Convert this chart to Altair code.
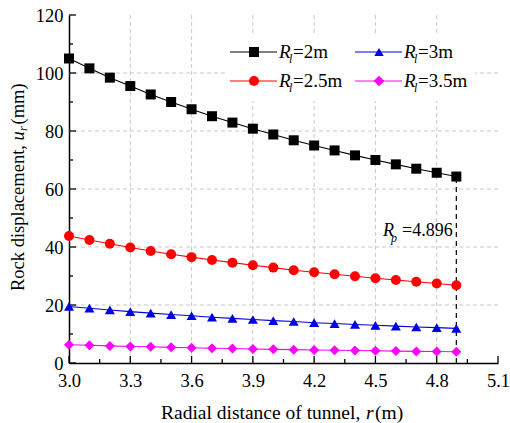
import altair as alt
import pandas as pd

# ---------------- data ----------------
r_vals = [3.0, 3.1, 3.2, 3.3, 3.4, 3.5, 3.6, 3.7, 3.8, 3.9,
          4.0, 4.1, 4.2, 4.3, 4.4, 4.5, 4.6, 4.7, 4.8, 4.896]
u_R2 = [105.0, 101.6, 98.4, 95.5, 92.6, 90.0, 87.5, 85.1, 82.9, 80.8,
        78.8, 76.8, 75.0, 73.3, 71.6, 70.0, 68.5, 67.0, 65.6, 64.3]
u_R25 = [43.8, 42.4, 41.1, 39.8, 38.6, 37.5, 36.5, 35.5, 34.6, 33.7,
         32.9, 32.0, 31.3, 30.6, 29.9, 29.2, 28.6, 28.0, 27.4, 26.8]
u_R3 = [19.5, 18.9, 18.3, 17.7, 17.2, 16.7, 16.3, 15.8, 15.4, 15.0,
        14.6, 14.3, 13.9, 13.6, 13.3, 13.0, 12.7, 12.4, 12.2, 11.95]
u_R35 = [6.3, 6.1, 5.9, 5.7, 5.6, 5.4, 5.25, 5.1, 5.0, 4.85,
         4.7, 4.6, 4.5, 4.4, 4.3, 4.2, 4.1, 4.0, 3.95, 3.9]
series_names = ["R2", "R25", "R3", "R35"]
series_colors = ["#000000", "#FF0000", "#0000E0", "#FF00FF"]
series_shapes = ["square", "circle", "triangle-up", "diamond"]
series_sizes = [100, 100, 90, 115]
legend_labels = ["=2m", "=2.5m", "=3m", "=3.5m"]

Rp = 4.896
Rp_top = 64.3

x_ticks = [3.0, 3.3, 3.6, 3.9, 4.2, 4.5, 4.8, 5.1]
x_minor = [3.15, 3.45, 3.75, 4.05, 4.35, 4.65, 4.95]
y_ticks = [0, 20, 40, 60, 80, 100, 120]
y_minor = [10, 30, 50, 70, 90, 110]
x_grid = [3.3, 3.6, 3.9, 4.2, 4.5, 4.8]
y_grid = [20, 40, 60, 80, 100]

FONT = "Liberation Serif, Times New Roman, DejaVu Serif, serif"
NB = "\u00a0"
W, H = 429, 348

rows = []
for name, vals in zip(series_names, [u_R2, u_R25, u_R3, u_R35]):
    for r, u in zip(r_vals, vals):
        rows.append({"r": r, "u": u, "s": name})
df = pd.DataFrame(rows)

xscale = alt.Scale(domain=[3.0, 5.1], nice=False, zero=False)
yscale = alt.Scale(domain=[0, 120], nice=False, zero=False)
xaxis = alt.Axis(values=x_ticks, format=".1f", title=None, grid=False, ticks=False,
                 tickSize=0, labelPadding=8, labelFlush=False, labelOverlap=False,
                 labelFont=FONT, labelFontSize=18.5, labelColor="black",
                 domainColor="black", domainWidth=1.5)
yaxis = alt.Axis(values=y_ticks, title=None, grid=False, ticks=False,
                 tickSize=0, labelPadding=6, labelFlush=False, labelOverlap=False,
                 labelFont=FONT, labelFontSize=18.5, labelColor="black",
                 domainColor="black", domainWidth=1.5)
X = lambda: alt.X("r:Q", scale=xscale, axis=xaxis)
Y = lambda: alt.Y("u:Q", scale=yscale, axis=yaxis)
cscale = alt.Scale(domain=series_names, range=series_colors)
sscale = alt.Scale(domain=series_names, range=series_shapes)
zscale = alt.Scale(domain=series_names, range=series_sizes)

one = alt.Data(values=[{}])


def txt(t, x, y, size=18, italic=False, angle=0, align="left", baseline="alphabetic"):
    kw = dict(font=FONT, fontSize=size, color="black", align=align, baseline=baseline)
    if italic:
        kw["fontStyle"] = "italic"
    if angle:
        kw["angle"] = angle
    return alt.Chart(one).mark_text(**kw).encode(
        x=alt.value(x), y=alt.value(y), text=alt.value(t))


layers = []

# grid
layers.append(alt.Chart(pd.DataFrame({"r": x_grid})).mark_rule(
    color="#C8C8C8", strokeWidth=1, strokeDash=[4, 3]).encode(x=X()))
layers.append(alt.Chart(pd.DataFrame({"u": y_grid})).mark_rule(
    color="#C8C8C8", strokeWidth=1, strokeDash=[4, 3]).encode(y=Y()))

# inward ticks
layers.append(alt.Chart(pd.DataFrame({"r": x_ticks})).mark_rule(color="black", strokeWidth=1.3).encode(
    x=X(), y=alt.value(H), y2=alt.value(H - 7)))
layers.append(alt.Chart(pd.DataFrame({"r": x_minor})).mark_rule(color="black", strokeWidth=1.3).encode(
    x=X(), y=alt.value(H), y2=alt.value(H - 4)))
layers.append(alt.Chart(pd.DataFrame({"u": y_ticks})).mark_rule(color="black", strokeWidth=1.3).encode(
    y=Y(), x=alt.value(0), x2=alt.value(7)))
layers.append(alt.Chart(pd.DataFrame({"u": y_minor})).mark_rule(color="black", strokeWidth=1.3).encode(
    y=Y(), x=alt.value(0), x2=alt.value(4)))

# dashed Rp line
layers.append(alt.Chart(pd.DataFrame({"r": [Rp], "u": [0], "u2": [Rp_top]})).mark_rule(
    color="black", strokeWidth=1.2, strokeDash=[5, 4]).encode(x=X(), y=Y(), y2="u2:Q"))

# series
layers.append(alt.Chart(df).mark_line(strokeWidth=1.1).encode(
    x=X(), y=Y(), color=alt.Color("s:N", scale=cscale, legend=None), detail="s:N"))
layers.append(alt.Chart(df).mark_point(filled=True, opacity=1, strokeWidth=0).encode(
    x=X(), y=Y(),
    color=alt.Color("s:N", scale=cscale, legend=None),
    shape=alt.Shape("s:N", scale=sscale, legend=None),
    size=alt.Size("s:N", scale=zscale, legend=None)))

# legend box
layers.append(alt.Chart(one).mark_rect(color="white").encode(
    x=alt.value(156), x2=alt.value(406), y=alt.value(20), y2=alt.value(86)))

leg_pos = [(161, 37), (161, 66), (286, 37), (286, 66)]
for (lx, ly), col, shp, sz, lab in zip(leg_pos, series_colors, series_shapes, series_sizes, legend_labels):
    layers.append(alt.Chart(one).mark_rule(color=col, strokeWidth=1.1).encode(
        x=alt.value(lx), x2=alt.value(lx + 47), y=alt.value(ly)))
    layers.append(alt.Chart(one).mark_point(filled=True, opacity=1, color=col, shape=shp,
                                            size=sz, strokeWidth=0).encode(
        x=alt.value(lx + 24), y=alt.value(ly)))
    tx = lx + 49
    layers.append(txt("R", tx, ly + 6, size=19, italic=True))
    layers.append(txt("l", tx + 10, ly + 11, size=12, italic=True))
    layers.append(txt(lab, tx + 14, ly + 6, size=19))

# Rp annotation
layers.append(txt("R", 314, 221, size=18, italic=True))
layers.append(txt("p", 322, 227, size=12, italic=True))
layers.append(txt("=4.896", 333, 221, size=18))

# x title
layers.append(txt("Radial distance of tunnel," + NB, 92, 404, size=19.5))
layers.append(txt("r", 297, 404, size=19.5, italic=True))
layers.append(txt(NB + "(m)", 306, 404, size=19.5))

# y title (rotated)
layers.append(txt("Rock displacement," + NB, -51, 276, size=18.5, angle=270, baseline="middle"))
layers.append(txt("u", -51, 125.4, size=18.5, italic=True, angle=270, baseline="middle"))
layers.append(txt("r", -46, 116.1, size=12, italic=True, angle=270, baseline="middle"))
layers.append(txt(NB + "(mm)", -51, 109.5, size=18.5, angle=270, baseline="middle"))

chart = alt.layer(*layers).properties(
    width=W, height=H,
    autosize=alt.AutoSizeParams(type="none"),
    padding={"left": 69, "top": 15, "right": 12, "bottom": 60},
    background="white",
).configure_view(stroke=None)

chart.save("out.html", embed_options={"renderer": "svg", "actions": False})
